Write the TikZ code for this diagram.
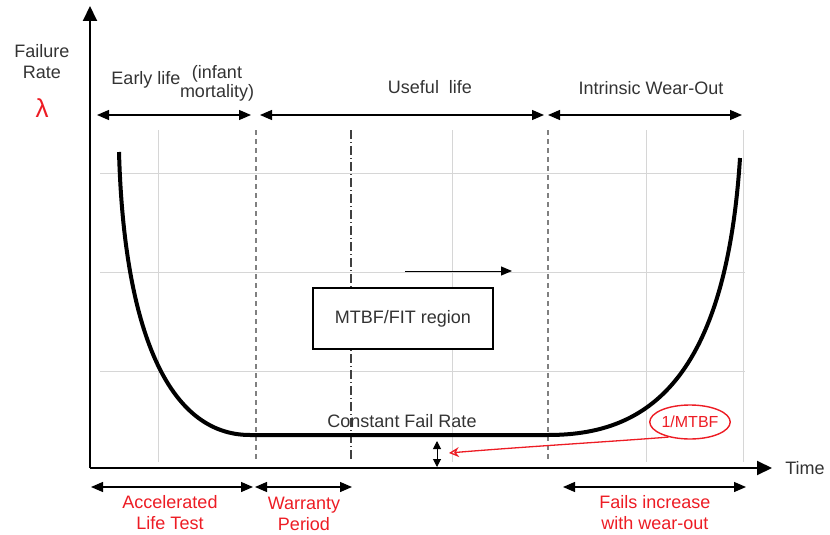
\documentclass[tikz,border=0pt]{standalone}
\usepackage{fontspec}
\setmainfont{Liberation Sans}
\usepackage{tikz}
\usetikzlibrary{arrows.meta}
\usetikzlibrary{shapes}
\definecolor{failred}{rgb}{0.93,0.11,0.14}
\definecolor{gridgray}{rgb}{0.84,0.84,0.84}
\tikzset{
  lbl/.style={inner sep=0.75pt,font=\fontsize{18}{20}\selectfont,text=black!80,align=center},
  redlbl/.style={lbl,text=failred},
  span/.style={line width=1.3pt,{Triangle[length=12pt,width=10pt]}-{Triangle[length=12pt,width=10pt]}},
  gridln/.style={gridgray,line width=0.7pt},
}
\begin{document}
\begin{tikzpicture}[x=1pt,y=1pt,yscale=-1,xscale=1]
\useasboundingbox (0,0) rectangle (830,535);

%Grid lines
\foreach \gx in {158,452,646,743}
  \draw [gridln] (\gx,130) -- (\gx,462);
\foreach \gy in {173,272,371}
  \draw [gridln] (100,\gy) -- (745,\gy);

%Region borders
\draw [gray,line width=2pt,dash pattern=on 5pt off 4pt] (256,130) -- (256,462);
\draw [gray,line width=2pt,dash pattern=on 5pt off 4pt] (548,130) -- (548,462);
\draw [black!75,line width=1.2pt,dash pattern=on 9pt off 3pt on 1pt off 3pt] (351,130) -- (351,462);

%Axes
\coordinate (origin) at (90,468);
\coordinate (ytip) at (90,6);
\coordinate (xtip) at (772,468);
\draw [line width=2pt,-{Triangle[length=15pt,width=14pt]}] (origin) -- (ytip);
\draw [line width=2pt,-{Triangle[length=15pt,width=14pt]}] (origin) -- (xtip);

%Bathtub curve
\draw [line width=4pt] (119,152) .. controls (124,330) and (168,435) .. (250,435) -- (548,435) .. controls (640,435) and (725,390) .. (740,158);

%Span arrows, top
\coordinate (e1) at (97,115); \coordinate (e2) at (251,115);
\coordinate (u1) at (260,115); \coordinate (u2) at (544,115);
\coordinate (w1) at (548,115); \coordinate (w2) at (742,115);
\draw [span] (e1) -- (e2);
\draw [span] (u1) -- (u2);
\draw [span] (w1) -- (w2);

%Span arrows, bottom
\coordinate (a1) at (91,487); \coordinate (a2) at (253,487);
\coordinate (p1) at (255,487); \coordinate (p2) at (352,487);
\coordinate (f1) at (563,487); \coordinate (f2) at (746,487);
\draw [span] (a1) -- (a2);
\draw [span] (p1) -- (p2);
\draw [span] (f1) -- (f2);

%Shift arrow
\coordinate (s1) at (405,271); \coordinate (s2) at (512,271);
\draw [line width=1pt,-{Triangle[length=11pt,width=9pt]}] (s1) -- (s2);

%Box
\node [draw,line width=1.5pt,fill=white,minimum width=180pt,minimum height=61pt,lbl] (fitbox) at (403,318.5) {MTBF/FIT region};

%Gap arrow
\coordinate (g1) at (437,441); \coordinate (g2) at (437,467);
\draw [line width=1pt,{Triangle[length=8pt,width=8pt]}-{Triangle[length=8pt,width=8pt]}] (g1) -- (g2);

%1/MTBF
\node [ellipse,draw=failred,line width=1.4pt,minimum width=78pt,minimum height=34pt,inner sep=0pt,text=failred,font=\fontsize{16}{18}\selectfont] (mtbf) at (690,422) {1/MTBF};
\draw [failred,line width=1.3pt,-{Stealth[open,length=10pt,width=10pt]}] (mtbf.215) .. controls (620,441) and (520,447) .. (449,453);

% Text Node
\node [lbl] (fr) at (42,62) {Failure\\[1pt]Rate};
\node [redlbl,font=\fontsize{26}{28}\selectfont] (lam) at (42,108) {λ};
\node [lbl] (early) at (146,80) {Early life};
\node [lbl] (infant) at (217,83) {(infant\\[-1pt]mortality)};
\node [lbl] (useful) at (430,87) {Useful\ \ life};
\node [lbl] (wear) at (651,88) {Intrinsic Wear-Out};
\node [lbl] (cfr) at (402,421) {Constant Fail Rate};
\node [lbl] (time) at (805,468) {Time};
\node [redlbl] (alt) at (170,513) {Accelerated\\[1pt]Life Test};
\node [redlbl] (wp) at (304,514) {Warranty\\[1pt]Period};
\node [redlbl] (fi) at (655,513) {Fails increase\\[1pt]with wear-out};

\end{tikzpicture}
\end{document}
